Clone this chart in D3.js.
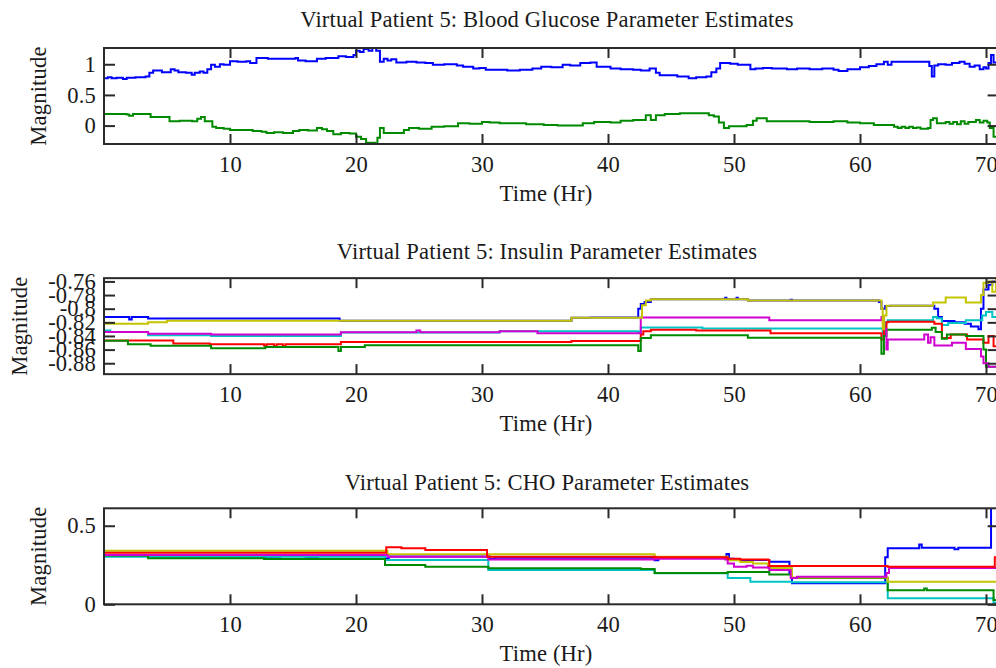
<!DOCTYPE html>
<html>
<head>
<meta charset="utf-8">
<script src="https://cdn.jsdelivr.net/npm/d3@7/dist/d3.min.js"></script>
<style>
  html, body { margin: 0; padding: 0; background: #fff; }
  svg { display: block; }
  text { font-family: "Liberation Serif", "Times New Roman", serif; fill: #1a1a1a; }
</style>
</head>
<body>
<svg id="chart" width="996" height="668"></svg>
<script>
// ---- Time axis (hours) shared by all panels ----
const timeDomain = [0, 71];
const timeTicks = [10, 20, 30, 40, 50, 60, 70];

// ---- Panel 1: blood glucose parameters, [hour, value] ----
const bgBlue = [[0,0.77],[0.3,0.79],[0.6,0.77],[1.0,0.78],[1.5,0.76],[1.8,0.78],[2.5,0.79],[3.3,0.80],[3.6,0.86],[3.9,0.90],[4.3,0.90],[4.6,0.87],[5.0,0.87],[5.3,0.92],[5.6,0.90],[5.9,0.87],[6.5,0.86],[6.96,0.83],[7.2,0.86],[7.6,0.88],[7.9,0.86],[8.2,0.92],[8.5,0.99],[8.8,0.96],[9.2,1.00],[9.5,0.99],[10,1.05],[10.6,1.04],[11.3,1.05],[11.6,1.02],[12.1,1.10],[13,1.09],[14,1.09],[15.2,1.10],[15.4,1.06],[16,1.05],[16.6,1.05],[16.9,1.09],[17.6,1.10],[18.6,1.13],[19.2,1.12],[19.8,1.15],[20,1.22],[20.3,1.20],[20.6,1.25],[21,1.22],[21.3,1.27],[21.6,1.22],[21.9,1.04],[22.2,1.09],[22.5,1.06],[22.8,1.08],[23.2,1.03],[24,1.04],[24.8,1.03],[25.5,1.02],[26.1,0.99],[27,1.00],[28,0.98],[28.5,0.96],[29.3,0.93],[29.8,0.94],[30.3,0.91],[31.4,0.91],[32,0.90],[33,0.91],[34,0.93],[34.7,0.96],[35.5,0.95],[36.4,0.99],[37,0.98],[37.8,1.02],[38.6,1.03],[39.1,0.96],[40.2,0.93],[41,0.92],[42,0.91],[42.6,0.90],[43.3,0.93],[43.8,0.86],[44.1,0.82],[45,0.82],[45.5,0.80],[46.4,0.77],[47,0.79],[47.8,0.80],[48.2,0.87],[48.6,0.93],[48.9,1.02],[49.7,1.01],[50.3,0.99],[51,0.99],[51.3,0.92],[51.7,0.93],[52.3,0.94],[53,0.93],[54.2,0.92],[55,0.93],[56,0.92],[57,0.93],[57.9,0.91],[58.3,0.89],[59,0.92],[60,0.95],[60.7,0.97],[61.3,1.00],[61.9,1.04],[62.2,0.99],[62.5,1.04],[63.5,1.04],[65.2,1.04],[65.5,0.97],[65.7,0.80],[65.9,0.98],[66.2,1.00],[66.8,0.99],[67.3,1.02],[67.9,1.04],[68.3,1.01],[68.7,0.96],[69.1,0.98],[69.5,0.92],[69.8,0.95],[70.0,0.93],[70.2,1.02],[70.4,1.15],[70.6,1.03],[70.9,0.93],[71,0.95]];
const bgGreen = [[0,0.19],[1.8,0.18],[2.0,0.16],[2.3,0.19],[3.3,0.19],[3.7,0.14],[4.97,0.14],[5.2,0.07],[6,0.08],[7,0.07],[7.4,0.11],[7.7,0.14],[8.0,0.07],[8.6,-0.02],[8.9,-0.04],[9.5,-0.05],[10,-0.07],[11,-0.07],[11.8,-0.09],[12.5,-0.10],[12.9,-0.12],[13.5,-0.11],[14.2,-0.12],[15.0,-0.09],[15.5,-0.07],[16.2,-0.08],[16.9,-0.04],[17.3,-0.06],[17.7,-0.09],[18.2,-0.14],[18.8,-0.12],[19.5,-0.13],[20,-0.18],[20.4,-0.22],[20.8,-0.28],[21.5,-0.29],[21.7,-0.20],[21.9,-0.04],[22.2,-0.12],[23.4,-0.12],[23.8,-0.07],[24.2,-0.04],[25,-0.05],[26,-0.02],[27,-0.01],[28.1,0.04],[29,0.03],[30,0.06],[30.6,0.05],[31.4,0.04],[32.5,0.04],[33.5,0.02],[34.9,0.01],[36,0.00],[37,0.00],[38,0.04],[38.9,0.06],[40.2,0.05],[41,0.08],[42,0.09],[43,0.17],[43.4,0.09],[43.8,0.17],[44.5,0.19],[45.7,0.20],[47.6,0.20],[48.0,0.17],[48.4,0.15],[48.8,0.05],[49.2,-0.04],[49.6,-0.01],[51,0.01],[51.5,0.08],[51.8,0.12],[52.6,0.07],[54,0.07],[56,0.06],[57.9,0.07],[59,0.05],[60,0.04],[61.1,0.01],[62.2,0.01],[62.7,-0.02],[63.0,-0.04],[63.3,-0.02],[63.6,-0.04],[63.9,-0.02],[64.2,-0.04],[64.5,-0.03],[64.8,-0.05],[65.4,-0.04],[65.6,0.09],[65.8,0.12],[66.1,0.04],[66.8,0.06],[67.1,0.03],[67.4,0.06],[67.7,0.02],[68,0.07],[68.3,0.03],[68.6,0.06],[69.2,0.09],[69.5,0.05],[69.8,0.08],[70.1,0.05],[70.3,-0.04],[70.6,-0.18],[71,-0.17]];

// ---- Panel 2: insulin parameters ----
const insBlue = [[0,-0.812],[1.9,-0.812],[2.0,-0.816],[2.2,-0.812],[3.5,-0.8143],[18.6,-0.8143],[18.7,-0.8176],[37,-0.8176],[37.1,-0.8134],[38.5,-0.8134],[38.6,-0.8128],[42.2,-0.8128],[42.4,-0.800],[42.6,-0.793],[42.9,-0.790],[43.4,-0.786],[49.2,-0.786],[49.3,-0.784],[49.4,-0.786],[50.1,-0.786],[50.2,-0.784],[50.3,-0.786],[51,-0.786],[51.1,-0.788],[54.4,-0.788],[54.5,-0.787],[54.6,-0.788],[61.3,-0.788],[61.5,-0.790],[61.7,-0.800],[62.0,-0.796],[62.4,-0.7955],[65.5,-0.7955],[65.9,-0.800],[66.2,-0.812],[66.5,-0.818],[67.5,-0.820],[68.3,-0.822],[68.8,-0.826],[69.4,-0.830],[69.6,-0.800],[69.8,-0.772],[70.2,-0.765],[70.5,-0.760],[71,-0.770]];
const insCyan = [[0,-0.832],[0.5,-0.834],[3.5,-0.839],[8.5,-0.840],[18.7,-0.840],[18.8,-0.835],[31.4,-0.833],[42.4,-0.834],[42.6,-0.8276],[47.4,-0.8276],[47.5,-0.829],[61.6,-0.829],[61.8,-0.840],[62.0,-0.820],[62.2,-0.817],[65.7,-0.817],[65.8,-0.812],[66.1,-0.814],[66.5,-0.824],[67,-0.821],[68.3,-0.821],[68.4,-0.817],[69.5,-0.817],[69.7,-0.810],[70.0,-0.805],[70.5,-0.812],[71,-0.808]];
const insRed = [[0,-0.8465],[5.4,-0.8465],[5.5,-0.851],[8.4,-0.852],[12.6,-0.852],[12.7,-0.854],[12.9,-0.852],[13.5,-0.855],[13.7,-0.852],[14.2,-0.855],[14.4,-0.852],[18.7,-0.852],[18.8,-0.849],[37,-0.849],[37.1,-0.8474],[42.4,-0.8474],[42.6,-0.838],[42.8,-0.833],[43.4,-0.831],[46.9,-0.831],[47,-0.832],[52.8,-0.832],[52.9,-0.836],[61.5,-0.836],[61.7,-0.845],[61.9,-0.830],[62.1,-0.820],[62.2,-0.819],[65.7,-0.819],[65.9,-0.822],[66.5,-0.843],[67.2,-0.838],[68.4,-0.838],[68.5,-0.845],[69.6,-0.845],[69.8,-0.850],[70.2,-0.840],[70.6,-0.855],[71,-0.850]];
const insGreen = [[0,-0.847],[1.8,-0.847],[1.9,-0.852],[3.6,-0.852],[3.7,-0.8545],[8.4,-0.8545],[8.5,-0.858],[12.7,-0.858],[12.8,-0.856],[18.5,-0.856],[18.6,-0.862],[18.8,-0.856],[20.6,-0.856],[20.7,-0.8536],[42.3,-0.8536],[42.4,-0.862],[42.6,-0.843],[43.4,-0.839],[51,-0.839],[51.1,-0.8427],[61.5,-0.8427],[61.7,-0.866],[61.9,-0.840],[62.1,-0.831],[65.5,-0.831],[65.7,-0.828],[66.0,-0.834],[66.5,-0.844],[66.9,-0.838],[68.3,-0.838],[68.4,-0.840],[69.6,-0.840],[69.8,-0.860],[70.0,-0.885],[71,-0.890]];
const insMagenta = [[0,-0.834],[3.4,-0.834],[3.5,-0.8366],[8.4,-0.8366],[8.5,-0.838],[18.7,-0.838],[18.8,-0.8346],[24.7,-0.8346],[24.8,-0.832],[25.1,-0.8346],[31.4,-0.833],[34.3,-0.833],[34.4,-0.836],[42.4,-0.836],[42.6,-0.813],[52.7,-0.813],[52.8,-0.817],[61.6,-0.817],[61.7,-0.812],[61.9,-0.830],[62.1,-0.860],[62.2,-0.845],[64.9,-0.845],[65.1,-0.838],[65.4,-0.850],[65.6,-0.842],[65.9,-0.854],[67.2,-0.854],[67.3,-0.850],[68.3,-0.850],[68.4,-0.859],[69.4,-0.859],[69.6,-0.870],[69.8,-0.880],[70.2,-0.885],[71,-0.885]];
const insYellow = [[0,-0.822],[3.5,-0.820],[5,-0.8176],[37,-0.8176],[37.1,-0.8134],[42.5,-0.8134],[42.7,-0.795],[43.0,-0.788],[43.4,-0.786],[51,-0.786],[51.1,-0.788],[61.6,-0.788],[61.7,-0.800],[61.8,-0.830],[61.9,-0.810],[62.1,-0.7955],[65.7,-0.7955],[65.8,-0.791],[66.7,-0.791],[66.8,-0.7836],[68.3,-0.7836],[68.4,-0.791],[69.5,-0.791],[69.6,-0.780],[69.8,-0.762],[70.2,-0.760],[70.5,-0.775],[70.8,-0.758],[71,-0.765]];

// ---- Panel 3: CHO parameters ----
const choBlue = [[0,0.313],[12.6,0.313],[12.7,0.303],[13.9,0.303],[14.0,0.313],[15.9,0.313],[16.0,0.303],[16.9,0.303],[17.0,0.313],[22.2,0.313],[22.3,0.293],[22.6,0.305],[30.5,0.305],[30.6,0.290],[31.0,0.296],[43.6,0.296],[43.7,0.280],[44.0,0.296],[49.3,0.296],[49.4,0.320],[49.6,0.290],[50,0.282],[52.7,0.282],[52.8,0.271],[54.2,0.271],[54.4,0.200],[54.6,0.134],[61.8,0.134],[62.0,0.300],[62.2,0.356],[64.6,0.356],[64.7,0.380],[64.9,0.360],[67.4,0.360],[67.5,0.350],[67.8,0.360],[70.3,0.360],[70.4,0.660],[71,0.660]];
const choCyan = [[0,0.303],[22.2,0.303],[22.3,0.282],[30.4,0.282],[30.5,0.218],[43.6,0.218],[43.7,0.197],[49.4,0.197],[49.5,0.167],[51.2,0.167],[51.3,0.144],[54.4,0.144],[54.6,0.140],[61.9,0.140],[62.2,0.038],[70.4,0.038],[70.6,0.010],[71,0.010]];
const choGreen = [[0,0.310],[3.4,0.310],[3.5,0.293],[12.6,0.293],[12.7,0.288],[22.2,0.288],[22.3,0.250],[25.4,0.250],[25.5,0.239],[30.4,0.239],[30.5,0.229],[42.5,0.229],[42.6,0.224],[43.6,0.224],[43.7,0.200],[49.4,0.200],[49.5,0.205],[52.7,0.205],[52.8,0.190],[54.5,0.190],[54.6,0.168],[61.9,0.168],[62.2,0.090],[65.0,0.090],[65.1,0.100],[65.3,0.090],[70.4,0.090],[70.6,0.027],[71,0.027]];
const choYellow = [[0,0.341],[22.4,0.341],[22.5,0.318],[43.6,0.318],[43.7,0.303],[49.3,0.303],[49.5,0.280],[50.5,0.270],[51.5,0.260],[52.7,0.231],[54.4,0.231],[54.6,0.170],[61.9,0.170],[62.2,0.144],[71,0.144]];
const choMagenta = [[0,0.313],[22.4,0.313],[22.5,0.303],[30.4,0.303],[30.5,0.285],[43.6,0.285],[43.7,0.290],[49.3,0.285],[49.5,0.260],[50,0.239],[51,0.245],[51.5,0.235],[52.7,0.239],[52.8,0.218],[54.2,0.218],[54.5,0.167],[55,0.176],[61.9,0.176],[62.1,0.200],[62.3,0.231],[70.9,0.231],[71,0.220]];
const choRed = [[0,0.328],[22.3,0.328],[22.4,0.363],[23.5,0.363],[23.6,0.356],[25.4,0.356],[25.5,0.345],[30.3,0.345],[30.4,0.303],[43.6,0.303],[43.7,0.300],[49.3,0.300],[49.5,0.290],[50.5,0.285],[52.7,0.282],[52.8,0.243],[61.9,0.243],[62.2,0.239],[70.5,0.239],[70.7,0.300],[70.9,0.240],[71,0.240]];

// ---- Axis ticks ----
const bgTicks = [0, 0.5, 1];
const insTicks = [-0.76, -0.78, -0.80, -0.82, -0.84, -0.86, -0.88];
const insTickLabels = ["-0.76", "-0.78", "-0.8", "-0.82", "-0.84", "-0.86", "-0.88"];
const choTicks = [0, 0.5];

const palette = {
  blue: "#0000ff", green: "#008a00", red: "#ff0000",
  magenta: "#d000d0", cyan: "#00c4c4", yellow: "#c4c400"
};

const panels = [
  { title: "Virtual Patient 5: Blood Glucose Parameter Estimates",
    yDomain: [-0.30, 1.265], yTicks: bgTicks, yFmt: d => d3.format("")(d),
    yLabelX: 46, titleY: 27,
    series: [{ d: bgBlue, c: palette.blue }, { d: bgGreen, c: palette.green }] },
  { title: "Virtual Patient 5: Insulin Parameter Estimates",
    yDomain: [-0.896, -0.7552], yTicks: insTicks, yFmt: (d, i) => insTickLabels[i],
    yLabelX: 27, titleY: 28.5,
    series: [{ d: insBlue, c: palette.blue }, { d: insCyan, c: palette.cyan },
             { d: insRed, c: palette.red }, { d: insGreen, c: palette.green },
             { d: insMagenta, c: palette.magenta }, { d: insYellow, c: palette.yellow }] },
  { title: "Virtual Patient 5: CHO Parameter Estimates",
    yDomain: [0, 0.611], yTicks: choTicks, yFmt: d => d3.format("")(d),
    yLabelX: 46, titleY: 29.5,
    series: [{ d: choBlue, c: palette.blue }, { d: choCyan, c: palette.cyan },
             { d: choGreen, c: palette.green }, { d: choYellow, c: palette.yellow },
             { d: choMagenta, c: palette.magenta }, { d: choRed, c: palette.red }] }
];

const svg = d3.select("#chart");
svg.append("rect").attr("width", 996).attr("height", 668).attr("fill", "#fff");

const plotLeft = 104, plotWidth = 894.6, plotTop = 48, plotHeight = 96;
const panelStep = 230.15;
const fontSize = 22.6;
const letterSpacing = 0.15;
const axisColor = "#2a2a2a";

const x = d3.scaleLinear().domain(timeDomain).range([0, plotWidth]);

panels.forEach((p, i) => {
  const g = svg.append("g")
    .attr("transform", `translate(${plotLeft},${plotTop + i * panelStep})`);
  const y = d3.scaleLinear().domain(p.yDomain).range([plotHeight, 0]);

  // keep traces inside the plot box
  const clipId = "clip" + i;
  g.append("clipPath").attr("id", clipId)
    .append("rect").attr("width", plotWidth).attr("height", plotHeight);

  // traces
  const line = d3.line().x(d => x(d[0])).y(d => y(d[1])).curve(d3.curveStepAfter);
  const traces = g.append("g").attr("clip-path", `url(#${clipId})`);
  p.series.forEach(s => {
    traces.append("path").datum(s.d)
      .attr("d", line).attr("fill", "none")
      .attr("stroke", s.c).attr("stroke-width", 2);
  });

  // axes with inward ticks on all four sides
  const styleAxis = sel => {
    sel.select(".domain").remove();
    sel.selectAll(".tick line").attr("stroke", axisColor).attr("stroke-width", 2);
    sel.selectAll("text").attr("font-size", fontSize)
      .attr("font-family", '"Liberation Serif", "Times New Roman", serif')
      .attr("fill", "#1a1a1a").attr("letter-spacing", letterSpacing);
  };

  const xb = g.append("g").attr("transform", `translate(0,${plotHeight})`)
    .call(d3.axisBottom(x).tickValues(timeTicks).tickSize(-10).tickSizeOuter(0).tickFormat(d3.format("d")));
  styleAxis(xb);
  xb.selectAll("text").attr("y", 28).attr("dy", null);

  const xt = g.append("g")
    .call(d3.axisTop(x).tickValues(timeTicks).tickSize(-10).tickSizeOuter(0).tickFormat(""));
  styleAxis(xt);

  const yl = g.append("g")
    .call(d3.axisLeft(y).tickValues(p.yTicks).tickSize(-11).tickSizeOuter(0).tickFormat(p.yFmt));
  styleAxis(yl);
  yl.selectAll("text").attr("x", -8).attr("dy", 7.2);

  const yr = g.append("g").attr("transform", `translate(${plotWidth},0)`)
    .call(d3.axisRight(y).tickValues(p.yTicks).tickSize(-11).tickSizeOuter(0).tickFormat(""));
  styleAxis(yr);

  // plot frame
  g.append("rect").attr("width", plotWidth).attr("height", plotHeight)
    .attr("fill", "none").attr("stroke", axisColor).attr("stroke-width", 2);

  // titles
  g.append("text").attr("x", 547 - plotLeft).attr("y", p.titleY - plotTop)
    .attr("text-anchor", "middle").attr("font-size", fontSize)
    .attr("letter-spacing", letterSpacing).text(p.title);
  g.append("text").attr("x", 546 - plotLeft).attr("y", 201 - plotTop)
    .attr("text-anchor", "middle").attr("font-size", fontSize)
    .attr("letter-spacing", letterSpacing).text("Time (Hr)");
  g.append("text")
    .attr("transform", `translate(${p.yLabelX - plotLeft},${plotHeight / 2}) rotate(-90)`)
    .attr("text-anchor", "middle").attr("font-size", fontSize)
    .attr("letter-spacing", letterSpacing).text("Magnitude");
});
</script>
</body>
</html>
